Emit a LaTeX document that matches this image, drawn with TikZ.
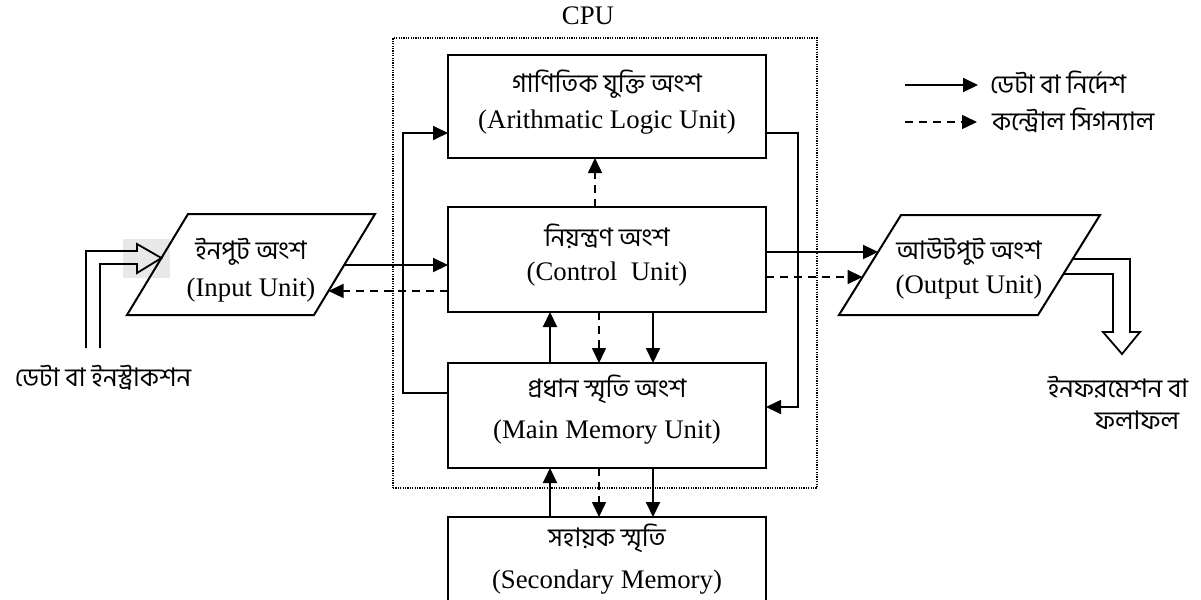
\documentclass[tikz,border=0pt]{standalone}
\usepackage{fontspec}
\setmainfont{Liberation Serif}
\newfontfamily\bn[Script=Bengali]{Hind Siliguri}
\usetikzlibrary{arrows.meta,calc}

\begin{document}
\begin{tikzpicture}[x=0.5pt,y=-0.5pt,
  every node/.style={inner sep=0pt, outer sep=0pt},
  box/.style={draw, line width=1pt, minimum width=159pt, minimum height=52.5pt},
  en/.style={font=\fontsize{13.4}{16}\selectfont, anchor=base},
  bnt/.style={font=\bn\fontsize{12.8}{16}\selectfont, anchor=base},
  headed/.style={-{Triangle[length=7.5pt,width=7pt]}},
  arr/.style={line width=1pt, headed},
  darr/.style={line width=0.8pt, dash pattern=on 4pt off 3pt, headed},
  wire/.style={line width=0.85pt, headed},
  hollow/.style={line width=0.9pt, line join=miter},
  para/.style={line width=1pt, line join=miter},
]
\path[use as bounding box] (0,0) rectangle (1201,600);
\clip (0,0) rectangle (1201,600);

% highlight behind the input arrow
\fill[black!9] (123,239) rectangle (170,278);

% CPU frame
\node[draw, line width=0.6pt, dash pattern=on 0.6pt off 0.6pt,
      minimum width=212pt, minimum height=225pt] (cpu) at (605,263) {};
\node[en] (cpuT) at (588,24) {CPU};

% units inside the CPU and the secondary memory
\node[box, minimum height=51.5pt] (alu) at (607,106.5) {};
\node[box] (ctl) at (607,259.5) {};
\node[box] (mm)  at (607,415.5) {};
\node[box] (sec) at (607,569.5) {};

\node[bnt] (aluA) at (607,92)  {গাণিতিক যুক্তি অংশ};
\node[en]  (aluB) at (607,128) {(Arithmatic Logic Unit)};
\node[bnt] (ctlA) at (607,246) {নিয়ন্ত্রণ অংশ};
\node[en]  (ctlB) at (607,280) {(Control\ \ Unit)};
\node[bnt] (mmA)  at (607,397) {প্রধান স্মৃতি অংশ};
\node[en]  (mmB)  at (607,438) {(Main Memory Unit)};
\node[bnt] (secA) at (607,546) {সহায়ক স্মৃতি};
\node[en]  (secB) at (607,588) {(Secondary Memory)};

% input unit
\coordinate (inTL) at (188,214);
\coordinate (inTR) at (375,214);
\coordinate (inBR) at (314,315);
\coordinate (inBL) at (127,315);
\draw[para] (inTL) -- (inTR) -- (inBR) -- (inBL) -- cycle;
\node[bnt] (inA) at (251,259) {ইনপুট অংশ};
\node[en]  (inB) at (251,296) {(Input Unit)};

% output unit
\coordinate (outTL) at (901,215);
\coordinate (outTR) at (1100,215);
\coordinate (outBR) at (1038,315);
\coordinate (outBL) at (839,315);
\draw[para] (outTL) -- (outTR) -- (outBR) -- (outBL) -- cycle;
\node[bnt] (outA) at (969,259) {আউটপুট অংশ};
\node[en]  (outB) at (969,293) {(Output Unit)};

% points on the slanted sides
\coordinate (inP)   at ($(inTR)!0.505!(inBR)$);
\coordinate (inQ)   at ($(inTR)!0.762!(inBR)$);
\coordinate (inTip) at ($(inTL)!0.436!(inBL)$);
\coordinate (outP)  at ($(outTL)!0.37!(outBL)$);
\coordinate (outQ)  at ($(outTL)!0.62!(outBL)$);
\coordinate (outR)  at ($(outTR)!0.44!(outBR)$);
\coordinate (outS)  at ($(outTR)!0.59!(outBR)$);

% hollow arrow into the input unit
\draw[hollow] (86,348) -- (86,251) -- (137,251) -- (137,244) -- (inTip)
  -- (137,273) -- (137,264) -- (100,264) -- (100,348);
\node[bnt] (dataIn) at (103,386) {ডেটা বা ইনস্ট্রাকশন};

% hollow arrow out of the output unit
\draw[hollow] (outR) -- (1130,259) -- (1130,332) -- (1140,332) -- (1122,354)
  -- (1103,332) -- (1113,332) -- (1113,274) -- (outS);
\node[bnt] (infoA) at (1118,397) {ইনফরমেশন বা};
\node[bnt] (infoB) at (1137,429) {ফলাফল};

% input <-> control, control -> output
\draw[arr]  (inP) -- (inP -| ctl.west);
\draw[darr] (inQ -| ctl.west) -- (inQ);
\draw[arr]  (outP -| ctl.east) -- (outP);
\draw[darr] (outQ -| ctl.east) -- (outQ);

% control -> ALU
\draw[darr] ($(ctl.north)+(-12,0)$) -- ($(alu.south)+(-12,0)$);

% control <-> main memory
\draw[arr]  ($(mm.north)+(-57,0)$) -- ($(ctl.south)+(-57,0)$);
\draw[darr] ($(ctl.south)+(-8,0)$) -- ($(mm.north)+(-8,0)$);
\draw[arr]  ($(ctl.south)+(46,0)$) -- ($(mm.north)+(46,0)$);

% main memory <-> secondary memory
\draw[arr]  ($(sec.north)+(-57,0)$) -- ($(mm.south)+(-57,0)$);
\draw[darr] ($(mm.south)+(-8,0)$) -- ($(sec.north)+(-8,0)$);
\draw[arr]  ($(mm.south)+(46,0)$) -- ($(sec.north)+(46,0)$);

% memory -> ALU and ALU -> memory loops
\draw[wire] ($(mm.west)+(0,-22.5)$) -- ++(-45,0) |- ($(alu.west)+(0,26.5)$);
\draw[wire] ($(alu.east)+(0,26.5)$) -- ++(32,0) |- ($(mm.east)+(0,-8.5)$);

% key
\coordinate (k1) at (905,85);
\coordinate (k2) at (905,122);
\draw[arr]  (k1) -- ++(73,0);
\draw[darr] (k2) -- ++(72,0);
\node[bnt, anchor=base west] (key1) at (990,93)  {ডেটা বা নির্দেশ};
\node[bnt, anchor=base west] (key2) at (992,130) {কন্ট্রোল সিগন্যাল};
\end{tikzpicture}
\end{document}
